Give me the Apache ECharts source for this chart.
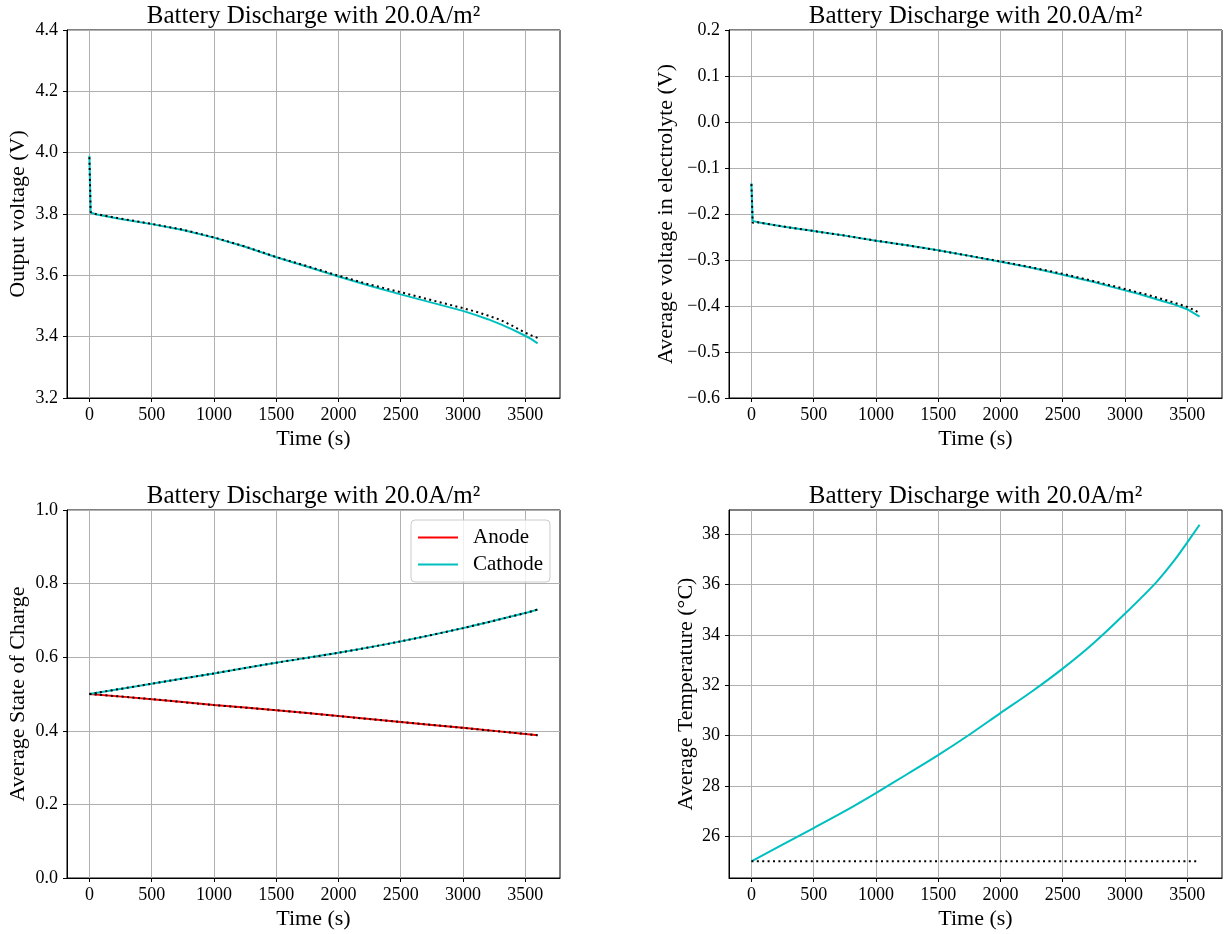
<!DOCTYPE html>
<html>
<head>
<meta charset="utf-8">
<script src="https://cdn.jsdelivr.net/npm/echarts@6/dist/echarts.min.js"></script>
<style>
  html, body { margin: 0; padding: 0; background: #fff; }
  #main { width: 1225px; height: 934px; }
</style>
</head>
<body>
<div id="main"></div>
<script>
// time axes (s)
var tVolt = [0, 10, 50, 250, 500, 750, 1000, 1250, 1500, 1750, 2000, 2250, 2500, 2750, 3000, 3100, 3200, 3300, 3400, 3500, 3550, 3600];
var tSoc = [0, 500, 1000, 1500, 2000, 2500, 3000, 3500, 3600];
var tTemp = [0, 250, 500, 750, 1000, 1250, 1500, 1750, 2000, 2250, 2500, 2750, 3000, 3250, 3400, 3500, 3600];

// output voltage (V)
var outVolt = [3.990, 3.805, 3.799, 3.784, 3.767, 3.748, 3.723, 3.693, 3.659, 3.628, 3.596, 3.566, 3.538, 3.511, 3.484, 3.471, 3.457, 3.441, 3.423, 3.403, 3.392, 3.378];
var outVoltRef = [3.985, 3.806, 3.800, 3.785, 3.768, 3.749, 3.724, 3.694, 3.660, 3.630, 3.599, 3.570, 3.545, 3.519, 3.493, 3.482, 3.469, 3.455, 3.435, 3.413, 3.404, 3.396];

// average electrolyte voltage (V)
var elVolt = [-0.133, -0.215, -0.218, -0.227, -0.237, -0.247, -0.258, -0.268, -0.279, -0.291, -0.304, -0.317, -0.332, -0.348, -0.366, -0.373, -0.381, -0.389, -0.397, -0.407, -0.415, -0.423];
var elVoltRef = [-0.135, -0.219, -0.218, -0.227, -0.237, -0.247, -0.258, -0.268, -0.279, -0.291, -0.303, -0.316, -0.330, -0.346, -0.363, -0.370, -0.377, -0.385, -0.393, -0.402, -0.408, -0.415];

// average state of charge
var socAnode = [0.500, 0.486, 0.470, 0.456, 0.440, 0.424, 0.408, 0.3915, 0.388];
var socCathode = [0.500, 0.528, 0.556, 0.585, 0.612, 0.643, 0.679, 0.720, 0.7295];

// average temperature (C)
var temp = [25.00, 25.66, 26.32, 26.99, 27.71, 28.46, 29.22, 30.03, 30.89, 31.74, 32.66, 33.68, 34.84, 36.08, 36.98, 37.67, 38.38];
var tempRef = [25, 25, 25, 25, 25, 25, 25, 25, 25, 25, 25, 25, 25, 25, 25, 25, 25];

var timeTicks = [0, 500, 1000, 1500, 2000, 2500, 3000, 3500];
var tempTicks = [26, 28, 30, 32, 34, 36, 38];

var titleText = 'Battery Discharge with 20.0A/m\u00b2';
var cyan = '#00bfbf';
var font = 'Liberation Serif';

function pairs(xs, ys) {
  var out = [];
  for (var i = 0; i < xs.length; i++) out.push([xs[i], ys[i]]);
  return out;
}
function fmt1(v) {
  return v.toFixed(1).replace('-', '\u2212');
}

var boxes = [
  {left: 67, top: 30},
  {left: 729, top: 30},
  {left: 67, top: 510},
  {left: 729, top: 510}
];
var W = 493, H = 368;

function xAxisFor(i) {
  return {
    type: 'value', gridIndex: i, min: -180, max: 3780,
    name: 'Time (s)', nameLocation: 'middle', nameGap: 30,
    nameTextStyle: {fontFamily: font, fontSize: 22, color: '#000'},
    axisLine: {show: true, onZero: false, lineStyle: {color: '#000', width: 1}},
    axisTick: {show: true, inside: false, length: 4, customValues: timeTicks, lineStyle: {color: '#000'}},
    axisLabel: {customValues: timeTicks, margin: 8, fontFamily: font, fontSize: 18, color: '#000',
      formatter: function (v) { return String(v); }},
    splitLine: {show: true, lineStyle: {color: '#b0b0b0', width: 1}}
  };
}
function yAxisFor(i, name, min, max, interval, custom, formatter, gap) {
  var ax = {
    type: 'value', gridIndex: i, min: min, max: max,
    name: name, nameLocation: 'middle', nameGap: gap,
    nameTextStyle: {fontFamily: font, fontSize: 22, color: '#000'},
    axisLine: {show: true, onZero: false, lineStyle: {color: '#000', width: 1}},
    axisTick: {show: true, inside: false, length: 4, lineStyle: {color: '#000'}},
    axisLabel: {margin: 9, fontFamily: font, fontSize: 18, color: '#000', formatter: formatter},
    splitLine: {show: true, lineStyle: {color: '#b0b0b0', width: 1}}
  };
  if (custom) {
    ax.axisTick.customValues = custom;
    ax.axisLabel.customValues = custom;
  } else {
    ax.interval = interval;
  }
  return ax;
}

function solid(i, name, data, color, smooth) {
  return {
    name: name, type: 'line', xAxisIndex: i, yAxisIndex: i, data: data, smooth: smooth || false,
    showSymbol: false, symbol: 'none', lineStyle: {color: color, width: 2}, itemStyle: {color: color}, z: 2
  };
}
function dotted(i, data, smooth) {
  return {
    name: 'ref', type: 'line', xAxisIndex: i, yAxisIndex: i, data: data, smooth: smooth || false,
    showSymbol: false, symbol: 'none', lineStyle: {color: '#000', width: 2, type: [2, 3.4]}, z: 3
  };
}

var chart = echarts.init(document.getElementById('main'));
var option = {
  animation: false,
  backgroundColor: '#fff',
  textStyle: {fontFamily: font},
  title: boxes.map(function (b, i) {
    return {
      text: titleText, left: b.left + W / 2, top: i > 1 ? 484 : 4, textAlign: 'center', padding: 0,
      textStyle: {fontFamily: font, fontSize: 25, fontWeight: 'normal', color: '#000'}
    };
  }),
  grid: boxes.map(function (b) {
    return {left: b.left, top: b.top, width: W, height: H, show: true, borderColor: '#000', borderWidth: 1, backgroundColor: 'transparent'};
  }),
  xAxis: [xAxisFor(0), xAxisFor(1), xAxisFor(2), xAxisFor(3)],
  yAxis: [
    yAxisFor(0, 'Output voltage (V)', 3.2, 4.4, 0.2, null, fmt1, 38),
    yAxisFor(1, 'Average voltage in electrolyte (V)', -0.6, 0.2, 0.1, null, fmt1, 52),
    yAxisFor(2, 'Average State of Charge', 0, 1.0, 0.2, null, fmt1, 38),
    yAxisFor(3, 'Average Temperature (\u00b0C)', 24.335, 38.965, null, tempTicks, function (v) { return String(v); }, 32)
  ],
  legend: {
    data: ['Anode', 'Cathode'],
    orient: 'vertical', left: 411, top: 520,
    padding: [7, 7, 7, 7],
    itemWidth: 40, itemHeight: 2, itemGap: 6, icon: 'rect',
    borderColor: '#cccccc', borderWidth: 1, borderRadius: 4,
    backgroundColor: 'rgba(255,255,255,0.8)',
    textStyle: {fontFamily: font, fontSize: 21, color: '#000', padding: [0, 0, 0, 10]}
  },
  series: [
    solid(0, 'out', pairs(tVolt, outVolt), cyan),
    dotted(0, pairs(tVolt, outVoltRef)),
    solid(1, 'el', pairs(tVolt, elVolt), cyan),
    dotted(1, pairs(tVolt, elVoltRef)),
    solid(2, 'Anode', pairs(tSoc, socAnode), '#ff0000', 0.3),
    solid(2, 'Cathode', pairs(tSoc, socCathode), cyan, 0.3),
    dotted(2, pairs(tSoc, socAnode), 0.3),
    dotted(2, pairs(tSoc, socCathode), 0.3),
    solid(3, 'temp', pairs(tTemp, temp), cyan, 0.3),
    dotted(3, pairs(tTemp, tempRef))
  ]
};
chart.setOption(option);
</script>
</body>
</html>
